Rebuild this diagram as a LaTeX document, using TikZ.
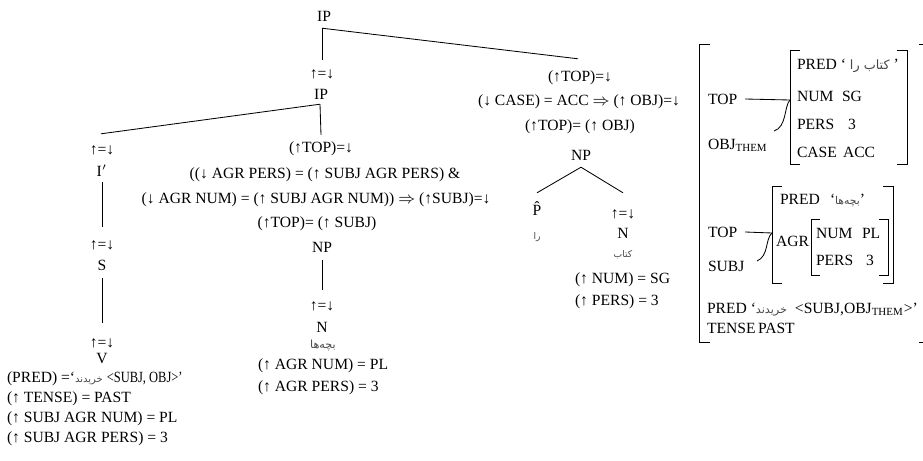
\documentclass[tikz,border=0pt]{standalone}
\usepackage{fontspec}
\usepackage{graphicx}
\setmainfont{Liberation Serif}
\newfontfamily\arabicfont[Script=Arabic]{DejaVu Sans}
\TeXXeTstate=1
\usetikzlibrary{calc}

% Persian words set right to left, in a small grey face
\newcommand{\pw}[2][4.6]{{\arabicfont\fontsize{#1}{#1}\selectfont\color{black!72}\beginR #2\endR}}

\tikzset{
  lbl/.style={inner sep=0pt, outer sep=0pt, text height=5.2pt, text depth=0pt},
  lft/.style={lbl, anchor=west},
  branch/.style={line width=0.42pt},
  brk/.style={line width=0.5pt},
}

\begin{document}
\begin{tikzpicture}[x=0.5pt, y=-0.5pt, font=\fontsize{7.8}{9}\selectfont]
\useasboundingbox (0,0) rectangle (923,461);

% ---------------- c-structure ----------------
\node[lbl] (ipA) at (324,16) {IP};
\node[lbl] (upB) at (322,73) {↑=↓};
\node[lbl] (ipD) at (321,94) {IP};

% object topic branch
\node[lbl] (topC)    at (580,76)  {(↑TOP)=↓};
\node[lbl] (caseC)   at (579,100) {(↓ CASE) = ACC $\Rightarrow$ (↑ OBJ)=↓};
\node[lbl] (topobjC) at (580,125) {(↑TOP)= (↑ OBJ)};
\node[lbl] (npC)     at (581,155) {NP};
\node[lbl] (phat)    at (537,210) {\^{P}};
\node[lbl] (raP)     at (537,234) {\pw{را}};
\node[lbl] (upN)     at (623,213) {↑=↓};
\node[lbl] (nN)      at (623,233) {N};
\node[lbl] (ketab)   at (623,252) {\pw{کتاب}};
\node[lft] (numN)    at (575,278) {(↑ NUM) = SG};
\node[lft] (persN)   at (575,300) {(↑ PERS) = 3};

% subject topic branch
\node[lbl] (topE)     at (321,147) {(↑TOP)=↓};
\node[lbl] (agrE1)    at (325,173) {((↓ AGR PERS) = (↑ SUBJ AGR PERS) \&};
\node[lbl] (agrE2)    at (316,198) {(↓ AGR NUM) = (↑ SUBJ AGR NUM)) $\Rightarrow$ (↑SUBJ)=↓};
\node[lbl] (topsubjE) at (317,222) {(↑TOP)= (↑ SUBJ)};
\node[lbl] (npE)      at (322,247) {NP};
\node[lbl] (upE)      at (322,305) {↑=↓};
\node[lbl] (nE)       at (322,327) {N};
\node[lbl] (bachE)    at (323,343) {\pw[5.6]{بچه‌ها}};
\node[lft] (agrnum)   at (258,364) {(↑ AGR NUM) = PL};
\node[lft] (agrpers)  at (258,386) {(↑ AGR PERS) = 3};

% head branch
\node[lbl] (upF)  at (102,149) {↑=↓};
\node[lbl] (ibar) at (102,171) {I$'$};
\node[lbl] (upG)  at (102,244) {↑=↓};
\node[lbl] (sS)   at (102,265) {S};
\node[lbl] (upH)  at (102,342) {↑=↓};
\node[lbl] (vV)   at (102,358) {V};
\node[lft] (predV)   at (7,377) {(PRED) =‘\pw[5]{خریدند} \scalebox{0.8}[1]{<SUBJ, OBJ>’}};
\node[lft] (tenseV)  at (7,397) {(↑ TENSE) = PAST};
\node[lft] (sanum)   at (7,417) {(↑ SUBJ AGR NUM) = PL};
\node[lft] (sapers)  at (7,437) {(↑ SUBJ AGR PERS) = 3};

% tree branches
\coordinate (jA) at ($(ipA.south)+(-2,7)$);
\coordinate (jD) at ($(ipD.south)+(-1,5)$);
\draw[branch] (jA) -- ($(upB.north)+(0,-8)$);
\draw[branch] (jA) -- ($(topC.north)+(-2,-12)$);
\draw[branch] (jD) -- ($(topE.north)+(0,-7)$);
\draw[branch] (jD) -- ($(upF.north)+(-1,-10)$);
\draw[branch] ($(ibar.south)+(0,6)$) -- ($(upG.north)+(0,-12)$);
\draw[branch] ($(sS.south)+(0,8)$) -- ($(upH.north)+(0,-14)$);
\draw[branch] ($(npE.south)+(0,8)$) -- ($(upE.north)+(0,-10)$);
\coordinate (jC) at ($(npC.south)+(0,7)$);
\draw[branch] (jC) -- ($(phat.north)+(0,-12)$);
\draw[branch] (jC) -- ($(upN.north)+(0,-15)$);

% ---------------- f-structure ----------------
% outer matrix
\draw[brk] (710,44) -- (699,44) -- (699,342) -- (710,342);
\draw[brk] (919,44) -- (930,44);
\draw[brk] (919,342) -- (930,342);

% object / topic
\draw[brk] (800,50) -- (790,50) -- (790,164) -- (800,164);
\draw[brk] (897,50) -- (907,50) -- (907,164) -- (897,164);
\node[lft] (predO)  at (797,64)  {PRED ‘\hspace{2pt}\pw[6.4]{کتاب را}\hspace{2pt}’};
\node[lft] (numO)   at (797,96)  {NUM};
\node[lft] (sgO)    at (842,96)  {SG};
\node[lft] (persO)  at (797,124) {PERS};
\node[lft] (threeO) at (848,124) {3};
\node[lft] (caseO)  at (797,152) {CASE};
\node[lft] (accO)   at (843,152) {ACC};
\node[lft] (topO)   at (708,99)  {TOP};
\node[lft] (objT)   at (708,144) {OBJ\textsubscript{THEM}};
\coordinate (objJ) at (790,100);
\coordinate (objEnd) at (774,131);
\draw[branch] ([xshift=4pt]topO.east) -- (objJ);
\draw[branch] (objJ) .. controls (784,106) and (787,127) .. (objEnd);

% subject / topic
\draw[brk] (782,186) -- (772,186) -- (772,283) -- (782,283);
\draw[brk] (883,186) -- (893,186) -- (893,283) -- (883,283);
\draw[brk] (820,219) -- (811,219) -- (811,275) -- (820,275);
\draw[brk] (879,219) -- (888,219) -- (888,275) -- (879,275);
\node[lft] (predS)  at (780,199) {PRED};
\node[lft] (valS)   at (830,199) {‘\pw[5.4]{بچه‌ها}’};
\node[lft] (agrS)   at (776,241) {AGR};
\node[lft] (numS)   at (816,233) {NUM};
\node[lft] (plS)    at (862,233) {PL};
\node[lft] (persS)  at (816,260) {PERS};
\node[lft] (threeS) at (866,260) {3};
\node[lft] (topS)   at (708,232) {TOP};
\node[lft] (subjS)  at (708,266) {SUBJ};
\coordinate (subjJ) at (772,233);
\coordinate (subjEnd) at (757,261);
\draw[branch] ([xshift=4pt]topS.east) -- (subjJ);
\draw[branch] (subjJ) .. controls (765,239) and (769,256) .. (subjEnd);

% clause level
\node[lft] (predM)  at (707,308) {PRED ‘\pw[5.6]{خریدند}\hspace{2pt} <SUBJ,OBJ\textsubscript{THEM}>’};
\node[lft] (tenseM) at (707,328) {TENSE};
\node[lft] (pastM)  at (758,328) {PAST};
\end{tikzpicture}
\end{document}
